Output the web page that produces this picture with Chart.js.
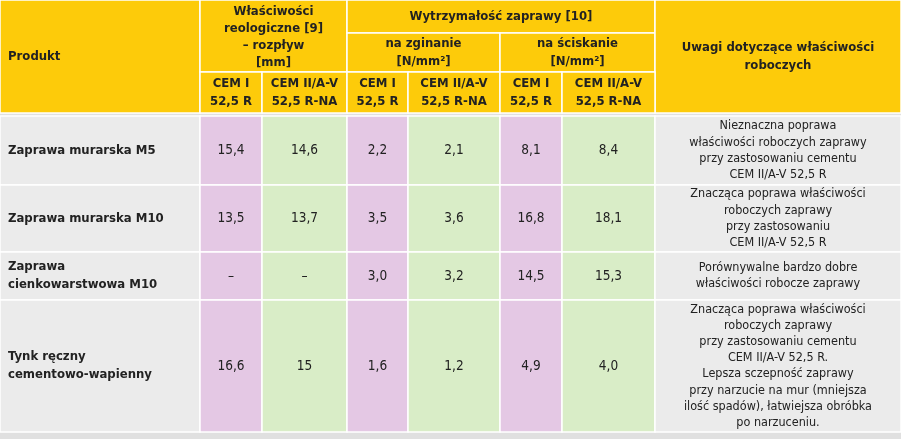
<!DOCTYPE html><html><head><meta charset="utf-8">
<script src="https://cdn.jsdelivr.net/npm/chart.js@4/dist/chart.umd.min.js"></script>
<style>body{margin:0;background:#fff}canvas{display:block}</style></head><body>
<canvas id="c" width="901" height="439"></canvas>
<script>
const products = [["Zaprawa murarska M5"],["Zaprawa murarska M10"],["Zaprawa","cienkowarstwowa M10"],["Tynk ręczny","cementowo-wapienny"]];
const flowCemI = ["15,4","13,5","–","16,6"];
const flowCemII = ["14,6","13,7","–","15"];
const bendCemI = ["2,2","3,5","3,0","1,6"];
const bendCemII = ["2,1","3,6","3,2","1,2"];
const compCemI = ["8,1","16,8","14,5","4,9"];
const compCemII = ["8,4","18,1","15,3","4,0"];
const notes = [
 ["Nieznaczna poprawa","właściwości roboczych zaprawy","przy zastosowaniu cementu","CEM II/A-V 52,5 R"],
 ["Znacząca poprawa właściwości","roboczych zaprawy","przy zastosowaniu","CEM II/A-V 52,5 R"],
 ["Porównywalne bardzo dobre","właściwości robocze zaprawy"],
 ["Znacząca poprawa właściwości","roboczych zaprawy","przy zastosowaniu cementu","CEM II/A-V 52,5 R.","Lepsza sczepność zaprawy","przy narzucie na mur (mniejsza","ilość spadów), łatwiejsza obróbka","po narzuceniu."]
];
const cemLabels = [["CEM I","52,5 R"],["CEM II/A-V","52,5 R-NA"]];
// layout (grid lines in chart units)
const X = [0,200,262,347,408,500,562,655,901];
const HY = [0,33,72,113];
const BY = [116,185,252,300,432];
const C = {yellow:'#FDCB0A',pink:'#E4C8E4',green:'#D9EDC7',gray:'#EBEBEB',line:'#FFFFFF',text:'#222'};
const F = 'DejaVu Sans Condensed, DejaVu Sans, sans-serif';

const tablePlugin = {id:'table', afterDraw(ch){
  const ctx=ch.ctx, xs=ch.scales.x, ys=ch.scales.y;
  const px=v=>xs.getPixelForValue(v), py=v=>ys.getPixelForValue(v);
  const rect=(x0,y0,x1,y1,col)=>{ctx.fillStyle=col;ctx.fillRect(px(x0),py(y0),px(x1)-px(x0),py(y1)-py(y0));
    ctx.strokeStyle=C.line;ctx.lineWidth=1.5;ctx.strokeRect(px(x0),py(y0),px(x1)-px(x0),py(y1)-py(y0));};
  const text=(lines,x,y,align,bold,size,lh)=>{ctx.fillStyle=C.text;ctx.textAlign=align;ctx.textBaseline='middle';
    ctx.font=(bold?'bold ':'')+size+'px '+F;const n=lines.length;
    lines.forEach((l,i)=>ctx.fillText(l,px(x),py(y)+(i-(n-1)/2)*lh));};
  ctx.save();
  ctx.fillStyle='#E0E0E0';ctx.fillRect(px(0),py(0),px(901)-px(0),py(439)-py(0));
  rect(X[0],HY[0],X[1],HY[3],C.yellow);
  rect(X[1],HY[0],X[3],HY[2],C.yellow);
  rect(X[3],HY[0],X[7],HY[1],C.yellow);
  rect(X[3],HY[1],X[5],HY[2],C.yellow);
  rect(X[5],HY[1],X[7],HY[2],C.yellow);
  rect(X[7],HY[0],X[8],HY[3],C.yellow);
  for(let i=1;i<7;i++) rect(X[i],HY[2],X[i+1],HY[3],C.yellow);
  text(["Produkt"],8,56.5,'left',true,13,16);
  text(["Właściwości","reologiczne [9]","– rozpływ","[mm]"],(X[1]+X[3])/2,37,'center',true,13,17);
  text(["Wytrzymałość zaprawy [10]"],(X[3]+X[7])/2,17,'center',true,13,16);
  text(["na zginanie","[N/mm²]"],(X[3]+X[5])/2,53,'center',true,13,18);
  text(["na ściskanie","[N/mm²]"],(X[5]+X[7])/2,53,'center',true,13,18);
  text(["Uwagi dotyczące właściwości","roboczych"],(X[7]+X[8])/2,56.5,'center',true,13,18);
  for(let i=1;i<7;i++) text(cemLabels[(i-1)%2],(X[i]+X[i+1])/2,93,'center',true,13,18);
  const cols=[flowCemI,flowCemII,bendCemI,bendCemII,compCemI,compCemII];
  products.forEach((p,r)=>{
    const y0=BY[r],y1=BY[r+1],ym=(y0+y1)/2;
    rect(X[0],y0,X[1],y1,C.gray);
    text(p,8,ym,'left',true,13,18);
    cols.forEach((arr,c)=>{rect(X[c+1],y0,X[c+2],y1,c%2?C.green:C.pink);
      text([arr[r]],(X[c+1]+X[c+2])/2,ym,'center',false,13.5,16);});
    rect(X[7],y0,X[8],y1,C.gray);
    text(notes[r],(X[7]+X[8])/2,ym,'center',false,12.5,16.2);
  });
  ctx.restore();
}};
new Chart(document.getElementById('c'),{type:'scatter',
 data:{datasets:[{data:[]}]},
 options:{responsive:false,animation:false,layout:{padding:0},
  plugins:{legend:{display:false},tooltip:{enabled:false}},
  scales:{x:{type:'linear',min:0,max:901,display:false},y:{type:'linear',min:0,max:439,reverse:true,display:false}}},
 plugins:[tablePlugin]});
</script></body></html>
